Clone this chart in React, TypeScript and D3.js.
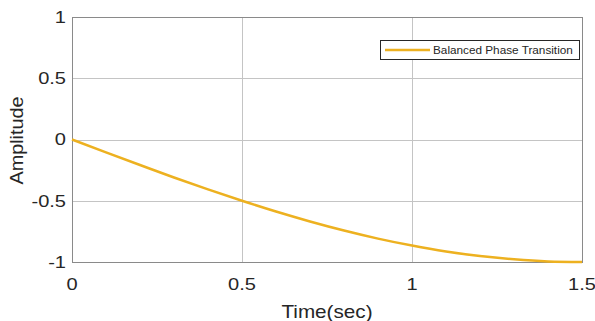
import React, { useEffect, useRef } from 'react';
import * as d3 from 'd3';

// time samples (sec) and amplitude
const timeValues = [0, 0.1, 0.2, 0.3, 0.4, 0.5, 0.6, 0.7, 0.8, 0.9, 1.0, 1.1, 1.2, 1.3, 1.4, 1.5];
const amplitudeValues = [0, -0.105, -0.208, -0.31, -0.407, -0.5, -0.588, -0.669, -0.743, -0.809, -0.866, -0.914, -0.951, -0.978, -0.995, -1];
const xTicks = [0, 0.5, 1, 1.5];
const yTicks = [-1, -0.5, 0, 0.5, 1];
const seriesName = 'Balanced Phase Transition';

const FONT = 'Liberation Sans, Arial, sans-serif';

const App: React.FC = () => {
  const svgRef = useRef<SVGSVGElement>(null);

  useEffect(() => {
    if (!svgRef.current) return;
    const svg = d3.select(svgRef.current);
    svg.selectAll('*').remove();

    const width = 595;
    const height = 321;
    const left = 72;
    const right = 582;
    const top = 17;
    const bottom = 262;

    const x = d3.scaleLinear().domain([0, 1.5]).range([left, right]);
    const y = d3.scaleLinear().domain([-1, 1]).range([bottom, top]);

    svg.attr('width', width).attr('height', height);
    svg.append('rect').attr('width', width).attr('height', height).attr('fill', '#fff');

    // grid
    const grid = svg.append('g').attr('stroke', '#c4c4c4').attr('stroke-width', 1);
    grid.selectAll('.gx')
      .data(xTicks.slice(1, -1))
      .enter()
      .append('line')
      .attr('x1', d => Math.round(x(d)) + 0.5)
      .attr('x2', d => Math.round(x(d)) + 0.5)
      .attr('y1', top)
      .attr('y2', bottom);
    grid.selectAll('.gy')
      .data(yTicks.slice(1, -1))
      .enter()
      .append('line')
      .attr('y1', d => Math.round(y(d)) + 0.5)
      .attr('y2', d => Math.round(y(d)) + 0.5)
      .attr('x1', left)
      .attr('x2', right);

    // box
    svg.append('rect')
      .attr('x', left + 0.5)
      .attr('y', top + 0.5)
      .attr('width', right - left)
      .attr('height', bottom - top)
      .attr('fill', 'none')
      .attr('stroke', '#8a8a8a')
      .attr('stroke-width', 1);

    // tick labels (the source text is a little wide, so stretch it)
    svg.selectAll('.xt')
      .data(xTicks)
      .enter()
      .append('text')
      .attr('transform', d => `translate(${x(d)}, ${bottom + 28}) scale(1.18, 1)`)
      .attr('text-anchor', 'middle')
      .style('font-family', FONT)
      .style('font-size', '17px')
      .attr('fill', '#262626')
      .text(d => String(d));

    svg.selectAll('.yt')
      .data(yTicks)
      .enter()
      .append('text')
      .attr('transform', d => `translate(${left - 6}, ${y(d)}) scale(1.18, 1)`)
      .attr('dy', '0.35em')
      .attr('text-anchor', 'end')
      .style('font-family', FONT)
      .style('font-size', '17px')
      .attr('fill', '#262626')
      .text(d => String(d));

    // axis titles
    svg.append('text')
      .attr('transform', `translate(${(left + right) / 2}, 318) scale(1.15, 1)`)
      .attr('text-anchor', 'middle')
      .style('font-family', FONT)
      .style('font-size', '18px')
      .attr('fill', '#262626')
      .text('Time(sec)');

    svg.append('text')
      .attr('transform', `translate(23, ${(top + bottom) / 2 + 1}) rotate(-90) scale(1.1, 1)`)
      .attr('text-anchor', 'middle')
      .style('font-family', FONT)
      .style('font-size', '18px')
      .attr('fill', '#262626')
      .text('Amplitude');

    // curve
    const line = d3.line<number>()
      .x((_, i) => x(timeValues[i]))
      .y(d => y(d))
      .curve(d3.curveMonotoneX);

    svg.append('path')
      .datum(amplitudeValues)
      .attr('d', line)
      .attr('fill', 'none')
      .attr('stroke', '#EDB120')
      .attr('stroke-width', 2.5);

    // legend
    const lg = svg.append('g');
    lg.append('rect')
      .attr('x', 380.5)
      .attr('y', 40.5)
      .attr('width', 199)
      .attr('height', 19)
      .attr('fill', '#fff')
      .attr('stroke', '#262626')
      .attr('stroke-width', 1);
    lg.append('line')
      .attr('x1', 385)
      .attr('x2', 430)
      .attr('y1', 50)
      .attr('y2', 50)
      .attr('stroke', '#EDB120')
      .attr('stroke-width', 2.5);
    lg.append('text')
      .attr('transform', 'translate(433, 50) scale(1.07, 1)')
      .attr('dy', '0.35em')
      .style('font-family', FONT)
      .style('font-size', '11px')
      .attr('fill', '#262626')
      .text(seriesName);
  }, []);

  return (
    <svg
      ref={svgRef}
      style={{ position: 'absolute', left: 0, top: 0, display: 'block' }}
    ></svg>
  );
};

export default App;
